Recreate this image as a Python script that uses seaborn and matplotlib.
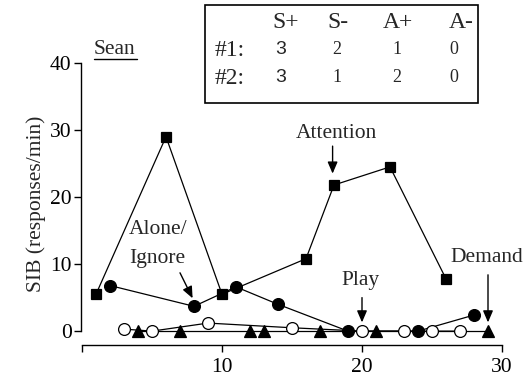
import numpy as np
import pandas as pd
import matplotlib
matplotlib.use("Agg")
import matplotlib.pyplot as plt
import seaborn as sns
from matplotlib.patches import Rectangle
from matplotlib.lines import Line2D

# Session data (SIB responses per minute by condition)
attention_x = [1, 6, 10, 16, 18, 22, 26]
attention_y = [5.5, 29.0, 5.5, 10.8, 21.8, 24.5, 7.8]

alone_x = [2, 8, 11, 14, 19, 24, 28]
alone_y = [6.8, 3.7, 6.6, 4.0, 0.0, 0.0, 2.4]

play_x = [3, 5, 9, 15, 20, 23, 25, 27]
play_y = [0.3, 0.0, 1.2, 0.5, 0.0, 0.0, 0.0, 0.0]

demand_x = [4, 7, 12, 13, 17, 21, 29]
demand_y = [0.0, 0.0, 0.0, 0.0, 0.0, 0.0, 0.0]

table_cols = ["S+", "S-", "A+", "A-"]
table_rows = ["#1:", "#2:"]
table_vals = [[3, 2, 1, 0], [3, 1, 2, 0]]

x_ticks = [0, 10, 20, 30]
x_ticklabels = ["", "10", "20", "30"]
y_ticks = [0, 10, 20, 30, 40]

sns.set_style("ticks")
plt.rcParams["font.family"] = ["Liberation Serif", "DejaVu Serif"]

FS = 15.5
W, H = 525, 382
fig = plt.figure(figsize=(W / 100, H / 100), dpi=100)
ax = fig.add_axes([82 / W, 1 - 345 / H, 420 / W, (345 - 63) / H])

line_kw = dict(color="black", linewidth=0.9, clip_on=False, markeredgecolor="black",
               markeredgewidth=0.9)

sns.lineplot(x=attention_x, y=attention_y, marker="s", markersize=7.8,
             markerfacecolor="black", ax=ax, **line_kw)
sns.lineplot(x=alone_x, y=alone_y, marker="o", markersize=8.5,
             markerfacecolor="black", ax=ax, **line_kw)
sns.lineplot(x=demand_x, y=demand_y, marker="^", markersize=8,
             markerfacecolor="black", ax=ax, **line_kw)
sns.lineplot(x=play_x, y=play_y, marker="o", markersize=8.5,
             markerfacecolor="white", ax=ax, **line_kw)

ax.set_xlim(0, 30)
ax.set_ylim(-2.07, 40)
ax.spines["right"].set_visible(False)
ax.spines["top"].set_visible(False)
ax.spines["left"].set_bounds(0, 40)
ax.spines["bottom"].set_bounds(0, 30)
ax.spines["left"].set_position(("outward", 1))
for s in ("left", "bottom"):
    ax.spines[s].set_linewidth(1.0)
    ax.spines[s].set_color("black")

ax.set_xticks(x_ticks)
ax.set_xticklabels(x_ticklabels)
ax.set_yticks(y_ticks)
ax.tick_params(axis="both", labelsize=FS, length=5, width=1.0, colors="black")
ax.tick_params(axis="y", pad=1.5)
ax.tick_params(axis="x", pad=4)
ax.set_ylabel("SIB (responses/min)", fontsize=FS, labelpad=3)
ax.set_xlabel("")

# Condition labels with arrows
arrow = dict(arrowstyle="-|>,head_length=0.7,head_width=0.3", color="black",
             lw=1.0, shrinkA=0, shrinkB=0)
ax.text(18.2, 29.5, "Attention", ha="center", va="center", fontsize=FS)
ax.annotate("", xy=(17.9, 23.5), xytext=(17.9, 27.6), arrowprops=arrow)

ax.text(5.4, 15.2, "Alone/", ha="center", va="center", fontsize=FS)
ax.text(5.4, 10.8, "Ignore", ha="center", va="center", fontsize=FS)
ax.annotate("", xy=(7.9, 4.9), xytext=(7.0, 8.7), arrowprops=arrow)

ax.text(19.9, 7.6, "Play", ha="center", va="center", fontsize=FS)
ax.annotate("", xy=(20.0, 1.3), xytext=(20.0, 5.0), arrowprops=arrow)

ax.text(28.9, 11.0, "Demand", ha="center", va="center", fontsize=FS)
ax.annotate("", xy=(29.0, 1.3), xytext=(29.0, 8.4), arrowprops=arrow)

# Participant name, underlined
fig.text(94 / W, 1 - 49 / H, "Sean", ha="left", va="center", fontsize=FS)
fig.add_artist(Line2D([94 / W, 137 / W], [1 - 59 / H, 1 - 59 / H],
                      color="black", linewidth=1.0))

# Summary table box
fig.add_artist(Rectangle((205 / W, 1 - 103 / H), (478 - 205) / W, (103 - 5) / H,
                         fill=False, edgecolor="black", linewidth=1.2))
head_x = [286, 338, 398, 461]
val_x = [281, 337, 397, 454]
for cx, lab in zip(head_x, table_cols):
    fig.text(cx / W, 1 - 22 / H, lab, ha="center", va="center", fontsize=17)
for ry, rlab, vals in zip([50, 78], table_rows, table_vals):
    fig.text(215 / W, 1 - ry / H, rlab, ha="left", va="center", fontsize=17)
    for j, (cx, v) in enumerate(zip(val_x, vals)):
        if j == 0:
            fig.text(cx / W, 1 - ry / H, str(v), ha="center", va="center",
                     fontsize=14, family=["Liberation Sans", "DejaVu Sans"])
        else:
            fig.text(cx / W, 1 - ry / H, str(v), ha="center", va="center",
                     fontsize=13)

fig.savefig("out.png", dpi=100)
